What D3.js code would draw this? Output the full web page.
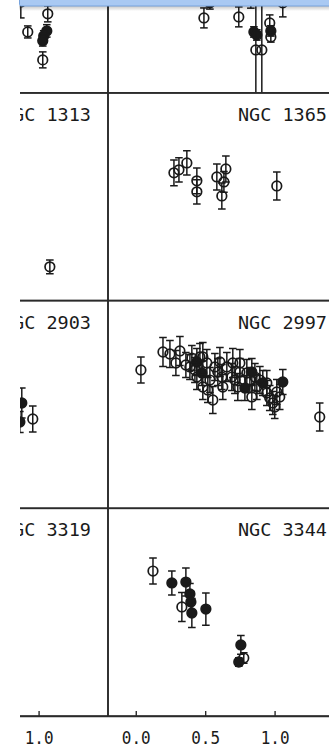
<!DOCTYPE html>
<html>
<head>
<meta charset="utf-8">
<script src="https://cdn.jsdelivr.net/npm/d3@7"></script>
<style>
  html, body { margin: 0; padding: 0; background: #fff; overflow: hidden; }
  svg { display: block; }
</style>
</head>
<body>
<svg id="chart" width="329" height="747"></svg>
<script>
// Each point: [x, y, error, filled (1) or open (0)]
const topLeftPts = [
  [0.872, 0.876, 0.154, 0],
  [1.066, 0.761, 0.077, 0],
  [0.922, 0.587, 0.058, 0],
  [1.059, 0.597, 0.060, 1],
  [1.037, 0.549, 0.050, 1],
  [1.030, 0.501, 0.050, 1],
  [1.030, 0.318, 0.077, 0]
];
const topRightPts = [
  [0.491, 0.722, 0.096, 0],
  [0.534, 0.867, 0.060, 1],
  [0.742, 0.732, 0.096, 0],
  [0.829, 0.896, 0.080, 0],
  [0.851, 0.587, 0.050, 1],
  [0.872, 0.558, 0.050, 1],
  [0.865, 0.414, 0.600, 0],
  [0.908, 0.414, 0.600, 0],
  [0.965, 0.674, 0.077, 0],
  [0.973, 0.597, 0.050, 1],
  [0.973, 0.539, 0.050, 0],
  [1.059, 0.867, 0.135, 0]
];
const ngc1313 = [
  [1.081, 0.325, 0.067, 0]
];
const ngc1365 = [
  [0.275, 1.230, 0.125, 0],
  [0.311, 1.259, 0.116, 0],
  [0.368, 1.326, 0.116, 0],
  [0.440, 1.153, 0.125, 0],
  [0.440, 1.047, 0.116, 0],
  [0.584, 1.191, 0.125, 0],
  [0.649, 1.268, 0.125, 0],
  [0.635, 1.143, 0.100, 0],
  [0.620, 1.008, 0.125, 0],
  [1.016, 1.104, 0.135, 0]
];
const ngc2903 = [
  [0.879, 1.014, 0.144, 1],
  [0.865, 0.831, 0.100, 1],
  [0.958, 0.860, 0.125, 0]
];
const ngc2997 = [
  [0.037, 1.332, 0.125, 0],
  [0.196, 1.505, 0.140, 0],
  [0.246, 1.486, 0.130, 0],
  [0.318, 1.515, 0.140, 0],
  [0.289, 1.399, 0.120, 0],
  [0.361, 1.380, 0.120, 0],
  [0.440, 1.409, 0.130, 1],
  [0.462, 1.457, 0.130, 0],
  [0.483, 1.457, 0.140, 0],
  [0.476, 1.303, 0.120, 1],
  [0.440, 1.264, 0.120, 0],
  [0.483, 1.168, 0.120, 0],
  [0.555, 1.043, 0.130, 0],
  [0.534, 1.235, 0.120, 0],
  [0.591, 1.312, 0.130, 0],
  [0.627, 1.168, 0.120, 0],
  [0.656, 1.361, 0.140, 0],
  [0.699, 1.399, 0.140, 0],
  [0.714, 1.235, 0.130, 0],
  [0.750, 1.312, 0.130, 0],
  [0.800, 1.303, 0.130, 0],
  [0.822, 1.235, 0.120, 0],
  [0.786, 1.158, 0.120, 1],
  [0.836, 1.072, 0.120, 0],
  [0.858, 1.264, 0.130, 0],
  [0.872, 1.168, 0.120, 0],
  [0.915, 1.207, 0.120, 1],
  [0.944, 1.110, 0.120, 0],
  [0.965, 1.062, 0.120, 0],
  [0.987, 1.014, 0.110, 0],
  [1.016, 1.120, 0.120, 0],
  [1.037, 1.072, 0.120, 0],
  [1.059, 1.216, 0.120, 1],
  [0.570, 1.361, 0.130, 0],
  [0.606, 1.409, 0.140, 0],
  [0.512, 1.399, 0.130, 0],
  [0.390, 1.361, 0.120, 0],
  [0.692, 1.264, 0.130, 0],
  [0.735, 1.168, 0.130, 0],
  [0.836, 1.312, 0.130, 1],
  [0.894, 1.235, 0.130, 0],
  [0.426, 1.332, 0.120, 0],
  [0.404, 1.447, 0.120, 0],
  [0.519, 1.139, 0.120, 0],
  [0.620, 1.264, 0.120, 0],
  [0.750, 1.399, 0.130, 0],
  [0.944, 1.207, 0.120, 0],
  [1.001, 0.975, 0.110, 0],
  [1.325, 0.879, 0.135, 0]
];
const ngc3319 = [];
const ngc3344 = [
  [0.124, 1.396, 0.125, 0],
  [0.260, 1.281, 0.115, 1],
  [0.361, 1.290, 0.135, 1],
  [0.390, 1.175, 0.100, 1],
  [0.397, 1.098, 0.100, 1],
  [0.332, 1.050, 0.140, 0],
  [0.404, 0.992, 0.140, 1],
  [0.505, 1.030, 0.155, 1],
  [0.757, 0.684, 0.090, 1],
  [0.778, 0.558, 0.050, 0],
  [0.742, 0.520, 0.040, 1]
];

// Grid of panels, top row first; [label, points] per column
const panelRows = [
  [[null, topLeftPts], [null, topRightPts]],
  [["NGC 1313", ngc1313], ["NGC 1365", ngc1365]],
  [["NGC 2903", ngc2903], ["NGC 2997", ngc2997]],
  [["NGC 3319", ngc3319], ["NGC 3344", ngc3344]]
];
const xDomain = [-0.2, 1.5];
const yDomain = [0, 2];
const xTickValues = [0.0, 0.5, 1.0];

// Layout
const colWidth = 236;
const firstColLeft = -128;
const rowHeight = 207.7;
const bottomY = 716;
const topY = bottomY - rowHeight * panelRows.length;
const pageLeft = 20;
const ink = "#1a1a1a";

const svg = d3.select("#chart");
const defs = svg.append("defs");
const root = svg.append("g");

panelRows.forEach((row, r) => {
  row.forEach(([label, pts], c) => {
    const x0 = firstColLeft + c * colWidth;
    const y0 = topY + r * rowHeight;
    const x = d3.scaleLinear().domain(xDomain).range([x0, x0 + colWidth]);
    const y = d3.scaleLinear().domain(yDomain).range([y0 + rowHeight, y0]);
    const clipId = `clip-${r}-${c}`;
    defs.append("clipPath").attr("id", clipId)
      .append("rect").attr("x", x0).attr("y", y0)
      .attr("width", colWidth).attr("height", rowHeight);

    const panel = root.append("g");
    const marks = panel.append("g").attr("clip-path", `url(#${clipId})`);

    const pt = marks.selectAll("g.pt").data(pts).join("g").attr("class", "pt");
    pt.append("line")
      .attr("x1", d => x(d[0])).attr("x2", d => x(d[0]))
      .attr("y1", d => y(d[1] - d[2])).attr("y2", d => y(d[1] + d[2]))
      .attr("stroke", ink).attr("stroke-width", 1.5);
    [-1, 1].forEach(s => {
      pt.append("line")
        .attr("x1", d => x(d[0]) - 3.8).attr("x2", d => x(d[0]) + 3.8)
        .attr("y1", d => y(d[1] + s * d[2])).attr("y2", d => y(d[1] + s * d[2]))
        .attr("stroke", ink).attr("stroke-width", 1.5);
    });
    pt.append("circle")
      .attr("cx", d => x(d[0])).attr("cy", d => y(d[1]))
      .attr("r", 4.8)
      .attr("fill", d => d[3] ? ink : "none")
      .attr("stroke", ink).attr("stroke-width", 1.7);

    // frame
    panel.append("rect")
      .attr("x", x0).attr("y", y0).attr("width", colWidth).attr("height", rowHeight)
      .attr("fill", "none").attr("stroke", "#2a2a2a").attr("stroke-width", 1.6);

    if (label) {
      panel.append("text")
        .attr("x", x0 + colWidth - 17).attr("y", y0 + 28)
        .attr("text-anchor", "end")
        .attr("font-family", "DejaVu Sans Mono, monospace")
        .attr("font-size", 18.5)
        .attr("fill", ink)
        .text(label);
    }

    if (r === panelRows.length - 1) {
      // only the ticks that fall on the visible page
      const ticks = xTickValues.filter(v => x(v) - 15 >= pageLeft);
      const axis = d3.axisBottom(x).tickValues(ticks)
        .tickSize(-5).tickSizeOuter(0).tickFormat(d3.format(".1f"));
      const ag = panel.append("g").attr("transform", `translate(0,${bottomY})`).call(axis);
      ag.select(".domain").attr("stroke", "#2a2a2a").attr("stroke-width", 1.6);
      ag.selectAll(".tick line").attr("stroke", "#2a2a2a").attr("stroke-width", 1.4);
      ag.selectAll(".tick text")
        .attr("y", 0).attr("dy", null)
        .attr("transform", "translate(0,28) scale(1,1.15)")
        .attr("font-family", "DejaVu Sans Mono, monospace")
        .attr("font-size", 16)
        .attr("fill", ink);
    }
  });
});

// page edge and window bar over the top of the figure
svg.append("rect").attr("x", 0).attr("y", 0).attr("width", pageLeft).attr("height", 719).attr("fill", "#fff");
const grad = defs.append("linearGradient").attr("id", "shade").attr("x1", 0).attr("x2", 0).attr("y1", 0).attr("y2", 1);
grad.append("stop").attr("offset", 0).attr("stop-color", "#000").attr("stop-opacity", 0.22);
grad.append("stop").attr("offset", 1).attr("stop-color", "#000").attr("stop-opacity", 0);
svg.append("rect").attr("x", 19).attr("y", 6).attr("width", 310).attr("height", 5).attr("fill", "url(#shade)");
svg.append("rect").attr("x", 19.5).attr("y", -3).attr("width", 320).attr("height", 9)
  .attr("rx", 1.5).attr("fill", "#a9c9f3").attr("stroke", "#76a2dc").attr("stroke-width", 1);
</script>
</body>
</html>
